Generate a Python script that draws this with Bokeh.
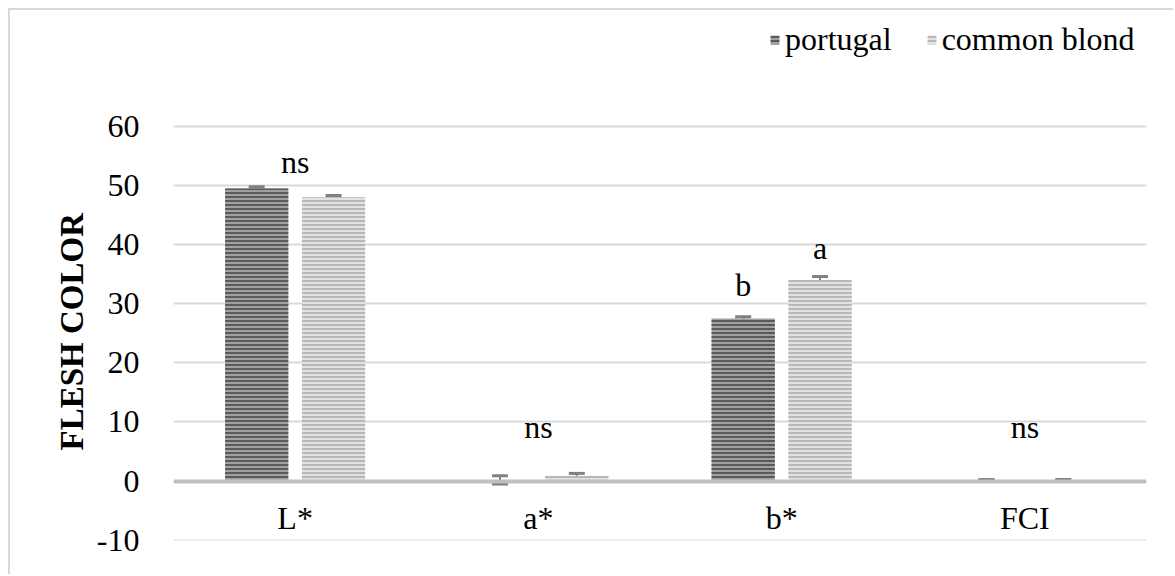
from bokeh.plotting import figure
from bokeh.models import (ColumnDataSource, FactorRange, Range1d, Whisker, TeeHead,
                          Legend, LegendItem, FixedTicker, Title)
from bokeh.transform import dodge
from bokeh.embed import file_html
from bokeh.resources import INLINE
from bokeh.core.properties import value

# ---- data ----
categories = ["L*", "a*", "b*", "FCI"]
portugal = [49.5, 0.2, 27.5, 0.2]
portugal_err = [0.3, 0.7, 0.3, 0.05]
common_blond = [48.0, 0.9, 34.0, 0.2]
common_blond_err = [0.3, 0.4, 0.6, 0.05]
y_ticks = [-10, 0, 10, 20, 30, 40, 50, 60]

# significance letters
ann_cat = ["L*", "a*", "b*", "b*", "FCI"]
ann_side = [0, 0, -1, 1, 0]
ann_text = ["ns", "ns", "b", "a", "ns"]
ann_y = [54, 9.2, 33.2, 39.5, 9.2]

FONT = "Liberation Serif"
FS = "32px"
OFF = 0.158

src = ColumnDataSource(dict(
    cat=categories,
    portugal=portugal,
    blond=common_blond,
    p_up=[v + e for v, e in zip(portugal, portugal_err)],
    p_lo=[v - e for v, e in zip(portugal, portugal_err)],
    b_up=[v + e for v, e in zip(common_blond, common_blond_err)],
    b_lo=[v - e for v, e in zip(common_blond, common_blond_err)],
))

p = figure(x_range=FactorRange(*categories, range_padding=0), y_range=Range1d(-10.05, 79.6),
           width=1165, height=566, output_backend="svg", toolbar_location=None,
           min_border_left=163, min_border_right=29, min_border_top=0, min_border_bottom=36)
p.styles = {"border-left": "2px solid #d9d9d9", "border-top": "2px solid #d9d9d9",
            "margin-left": "8px", "margin-top": "8px"}
p.outline_line_color = None

r1 = p.vbar(x=dodge("cat", -OFF, range=p.x_range), top="portugal", bottom=0, width=0.26,
            source=src, fill_color="#a0a0a0", line_color=None,
            hatch_pattern="horizontal_line", hatch_color="#5a5a5a", hatch_scale=4, hatch_weight=2)
r2 = p.vbar(x=dodge("cat", OFF, range=p.x_range), top="blond", bottom=0, width=0.26,
            source=src, fill_color="#e2e2e2", line_color=None,
            hatch_pattern="horizontal_line", hatch_color="#b8b8b8", hatch_scale=4, hatch_weight=2)

for base, up, lo in [(dodge("cat", -OFF, range=p.x_range), "p_up", "p_lo"),
                     (dodge("cat", OFF, range=p.x_range), "b_up", "b_lo")]:
    w = Whisker(base=base, upper=up, lower=lo, source=src, line_color="#808080", line_width=2,
                upper_head=TeeHead(size=16, line_color="#808080", line_width=3),
                lower_head=TeeHead(size=16, line_color="#808080", line_width=3))
    p.add_layout(w)

for s in (-1, 0, 1):
    idx = [i for i, v in enumerate(ann_side) if v == s]
    if not idx:
        continue
    asrc = ColumnDataSource(dict(x=[ann_cat[i] for i in idx], y=[ann_y[i] for i in idx],
                                 text=[ann_text[i] for i in idx]))
    p.text(x=dodge("x", s * OFF, range=p.x_range), y="y", text="text", source=asrc,
           text_font=value(FONT), text_font_size=FS, text_color="#000000",
           text_align="center", text_baseline="middle")

# axes
p.yaxis.ticker = FixedTicker(ticks=y_ticks)
p.yaxis.major_label_overrides = {t: str(t) for t in y_ticks}
p.yaxis.axis_line_color = None
p.yaxis.major_tick_line_color = None
p.yaxis.minor_tick_line_color = None
p.yaxis.major_label_standoff = 28
p.yaxis.major_label_text_font = FONT
p.yaxis.major_label_text_font_size = FS
p.yaxis.major_label_text_color = "#000000"

ytitle = Title(text="FLESH COLOR", align="left", offset=90, standoff=8,
               text_font=FONT, text_font_style="bold", text_font_size="33px",
               text_color="#000000")
p.add_layout(ytitle, "left")

p.xaxis.fixed_location = 0
p.xaxis.axis_line_color = "#bfbfbf"
p.xaxis.axis_line_width = 4
p.xaxis.major_tick_line_color = None
p.xaxis.minor_tick_line_color = None
p.xaxis.major_label_standoff = 13
p.xaxis.major_label_text_font = FONT
p.xaxis.major_label_text_font_size = FS
p.xaxis.major_label_text_color = "#000000"

p.xgrid.grid_line_color = None
p.ygrid.grid_line_color = "#d9d9d9"
p.ygrid.grid_line_width = 2

legend = Legend(items=[LegendItem(label="portugal", renderers=[r1]),
                       LegendItem(label="common blond", renderers=[r2])],
                orientation="horizontal", location=(596, 482),
                glyph_width=11, glyph_height=11, label_standoff=5, spacing=34,
                padding=0, margin=0, background_fill_alpha=0, border_line_color=None,
                label_text_font=FONT, label_text_font_size=FS, label_text_color="#000000")
p.add_layout(legend, "center")

open("out.html", "w").write(file_html(p, INLINE))
